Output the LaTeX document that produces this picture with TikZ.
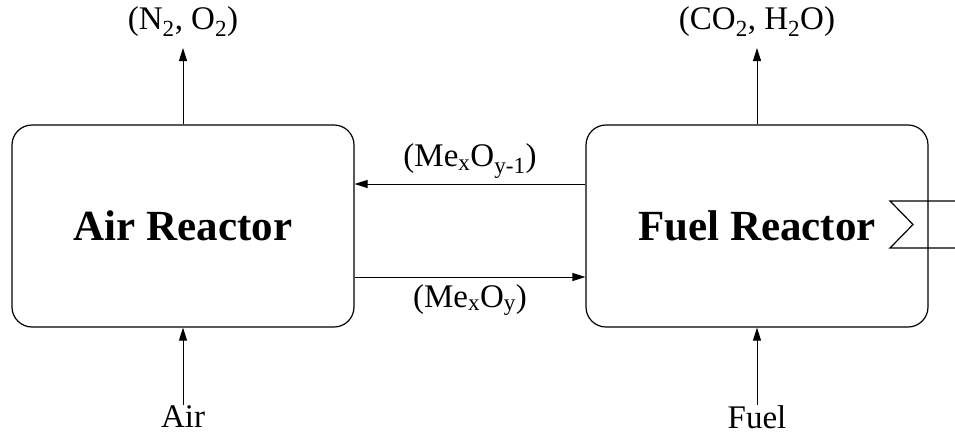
\documentclass[tikz,border=0pt]{standalone}
\usepackage{fontspec}
\setmainfont{Liberation Serif}
\usetikzlibrary{arrows.meta}
\begin{document}
\begin{tikzpicture}[x=1pt,y=-1pt,
  reactor/.style={draw,line width=1.2pt,rounded corners=20pt,minimum width=342pt,minimum height=202pt,inner sep=0pt,font=\fontsize{43}{46}\selectfont\bfseries},
  lbl/.style={inner sep=0pt,font=\fontsize{33}{36}\selectfont},
  flow/.style={line width=1pt,-{Triangle[length=13pt,width=8pt]}}]
\useasboundingbox (0,0) rectangle (955,434);
\node[reactor] (air) at (183,226) {Air Reactor};
\node[reactor] (fuel) at (757,226) {Fuel Reactor};
\node[lbl] (n2) at (183,22) {(N\textsubscript{2}, O\textsubscript{2})};
\node[lbl] (co2) at (757,22) {(CO\textsubscript{2}, H\textsubscript{2}O)};
\node[lbl] (airin) at (183,417) {Air};
\node[lbl] (fuelin) at (757,417) {Fuel};
\node[lbl] (red) at (470,161) {(Me\textsubscript{x}O\textsubscript{y-1})};
\node[lbl] (ox) at (470,300) {(Me\textsubscript{x}O\textsubscript{y})};
\coordinate (n2t) at (183,48);
\coordinate (co2t) at (757,48);
\coordinate (airb) at (183,405);
\coordinate (fuelb) at (757,405);
\draw[flow] (air.north) -- (n2t);
\draw[flow] (fuel.north) -- (co2t);
\draw[flow] (airb) -- (air.south);
\draw[flow] (fuelb) -- (fuel.south);
\draw[flow] (fuel.west |- 0,184) -- (air.east |- 0,184);
\draw[flow] (air.east |- 0,277) -- (fuel.west |- 0,277);
\draw[line width=1.2pt] (955,201) -- (890,201) -- (913,224.5) -- (890,248) -- (955,248);
\end{tikzpicture}
\end{document}
